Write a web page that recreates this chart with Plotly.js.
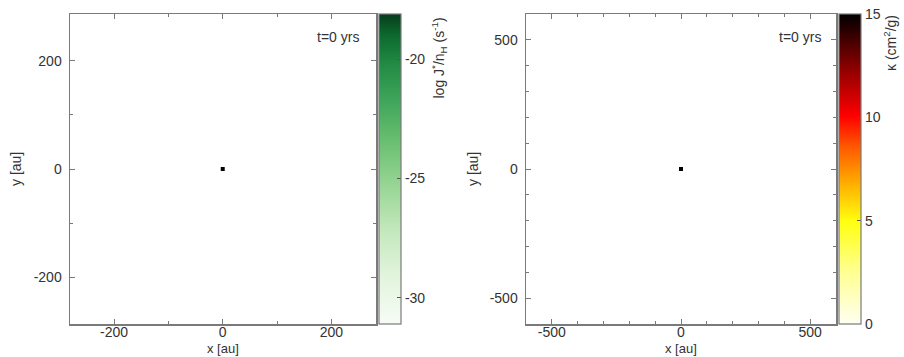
<!DOCTYPE html>
<html>
<head>
<meta charset="utf-8">
<script src="https://cdn.plot.ly/plotly-3.0.1.min.js"></script>
<style>
  html, body { margin: 0; padding: 0; background: #fff; }
  #chart { width: 904px; height: 357px; }
</style>
</head>
<body>
<div id="chart"></div>
<script>
// Initial snapshot (t = 0 yrs): a single seed particle at the origin.
const sinkX = [0];
const sinkY = [0];

// Left panel: nucleation rate per H nucleus, log J*/n_H (s^-1)
const jRange = [-31.1, -18.1];
const jTickVals = [-30, -25, -20];
const jTickText = ['-30', '-25', '-20'];

// Right panel: opacity kappa (cm^2/g)
const kappaRange = [0, 15];
const kappaTickVals = [0, 5, 10, 15];
const kappaTickText = ['0', '5', '10', '15'];

// Spatial axes
const leftXRange = [-281, 282];
const leftYRange = [-287, 287];
const leftTickVals = [-200, 0, 200];
const leftTickText = ['-200', '0', '200'];
const rightRange = [-600, 600];
const rightTickVals = [-500, 0, 500];
const rightTickText = ['-500', '0', '500'];

const timeLabel = 't=0 yrs';

const W = 904, H = 357;
const px = v => v / W;
const py = v => 1 - v / H;

const FRAME = '#7a7a7a';
const TEXT = '#333333';

const greens = [
  [0.0, '#f7fcf5'], [0.15, '#e3f4de'], [0.3, '#c4e8bd'], [0.45, '#97d594'],
  [0.6, '#66bd6f'], [0.72, '#3fa55a'], [0.84, '#218a44'], [0.93, '#0d6a2e'],
  [1.0, '#053d1c']
];
const kappaScale = [
  [0.0, '#fffff2'], [0.18, '#ffff8a'], [0.33, '#ffff10'], [0.45, '#ffb000'],
  [0.57, '#ff5a00'], [0.67, '#ff0000'], [0.8, '#a00000'], [0.92, '#400000'],
  [1.0, '#000000']
];

function spatialAxis(domain, range, tickvals, ticktext, anchor, minorStep, isX) {
  const ax = {
    domain: domain, range: range, anchor: anchor,
    tickmode: 'array', tickvals: tickvals, ticktext: ticktext,
    ticks: 'inside', ticklen: 5, tickwidth: 1, tickcolor: FRAME,
    showline: true, linecolor: FRAME, linewidth: 1.5, mirror: 'allticks',
    showgrid: false, zeroline: false, fixedrange: true,
    tickfont: { size: 14, color: TEXT },
    minor: { dtick: minorStep, tick0: 0, ticks: 'inside', ticklen: 3, tickwidth: 1, tickcolor: FRAME, showgrid: false }
  };
  ax.ticklabelstandoff = isX ? -5 : 4;
  return ax;
}

function colorbar(x, tickvals, ticktext) {
  return {
    x: px(x), xanchor: 'left', xpad: 0,
    y: py(14), yanchor: 'top', ypad: 0,
    len: 310, lenmode: 'pixels',
    thickness: 22, thicknessmode: 'pixels',
    outlinewidth: 1.2, outlinecolor: FRAME, borderwidth: 0,
    tickmode: 'array', tickvals: tickvals, ticktext: ticktext,
    ticks: 'inside', ticklen: 4, tickcolor: '#555',
    tickfont: { size: 14, color: TEXT }
  };
}

const traces = [
  // seed particle, left panel
  { type: 'scatter', mode: 'markers', x: sinkX, y: sinkY, xaxis: 'x', yaxis: 'y',
    marker: { symbol: 'square', size: 4, color: '#000' }, hoverinfo: 'skip' },
  // seed particle, right panel
  { type: 'scatter', mode: 'markers', x: sinkX, y: sinkY, xaxis: 'x2', yaxis: 'y2',
    marker: { symbol: 'square', size: 4, color: '#000' }, hoverinfo: 'skip' },
  // colour scale carriers (no visible points)
  { type: 'scatter', mode: 'markers', x: [null, null], y: [null, null], xaxis: 'x', yaxis: 'y',
    marker: { color: jRange, cmin: jRange[0], cmax: jRange[1], colorscale: greens,
              showscale: true, colorbar: colorbar(379, jTickVals, jTickText) },
    hoverinfo: 'skip' },
  { type: 'scatter', mode: 'markers', x: [null, null], y: [null, null], xaxis: 'x2', yaxis: 'y2',
    marker: { color: kappaRange, cmin: kappaRange[0], cmax: kappaRange[1], colorscale: kappaScale,
              showscale: true, colorbar: colorbar(839, kappaTickVals, kappaTickText) },
    hoverinfo: 'skip' }
];

const ann = (text, x, y, opts) => Object.assign({
  text: text, x: px(x), y: py(y), xref: 'paper', yref: 'paper',
  xanchor: 'center', yanchor: 'middle',
  showarrow: false, font: { size: 13, color: TEXT }
}, opts || {});

const layout = {
  width: W, height: H,
  margin: { l: 0, r: 0, t: 0, b: 0, autoexpand: false },
  paper_bgcolor: '#ffffff', plot_bgcolor: '#ffffff',
  showlegend: false,
  font: { family: '"Liberation Sans", Arial, sans-serif', size: 14, color: TEXT },
  xaxis: spatialAxis([px(70), px(376)], leftXRange, leftTickVals, leftTickText, 'y', 100, true),
  yaxis: spatialAxis([py(324), py(14)], leftYRange, leftTickVals, leftTickText, 'x', 100, false),
  xaxis2: spatialAxis([px(526), px(836)], rightRange, rightTickVals, rightTickText, 'y2', 100, true),
  yaxis2: spatialAxis([py(324), py(14)], rightRange, rightTickVals, rightTickText, 'x2', 100, false),
  annotations: [
    ann('x [au]', 223, 348, { font: { size: 13, color: TEXT } }),
    ann('x [au]', 681, 348, { font: { size: 13, color: TEXT } }),
    ann('y [au]', 16, 169, { textangle: -90, font: { size: 14, color: TEXT } }),
    ann('y [au]', 473, 169, { textangle: -90, font: { size: 14, color: TEXT } }),
    ann(timeLabel, 338, 37, { font: { size: 14, color: TEXT } }),
    ann(timeLabel, 800, 37, { font: { size: 14, color: TEXT } }),
    ann('log J<sup>*</sup>/n<sub>H</sub> (s<sup>-1</sup>)', 440, 16,
        { textangle: -90, yanchor: 'top', font: { size: 14, color: TEXT } }),
    ann('κ (cm<sup>2</sup>/g)', 890, 13,
        { textangle: -90, yanchor: 'top', font: { size: 14, color: TEXT } })
  ]
};

Plotly.newPlot('chart', traces, layout, { staticPlot: true, displayModeBar: false });
</script>
</body>
</html>
